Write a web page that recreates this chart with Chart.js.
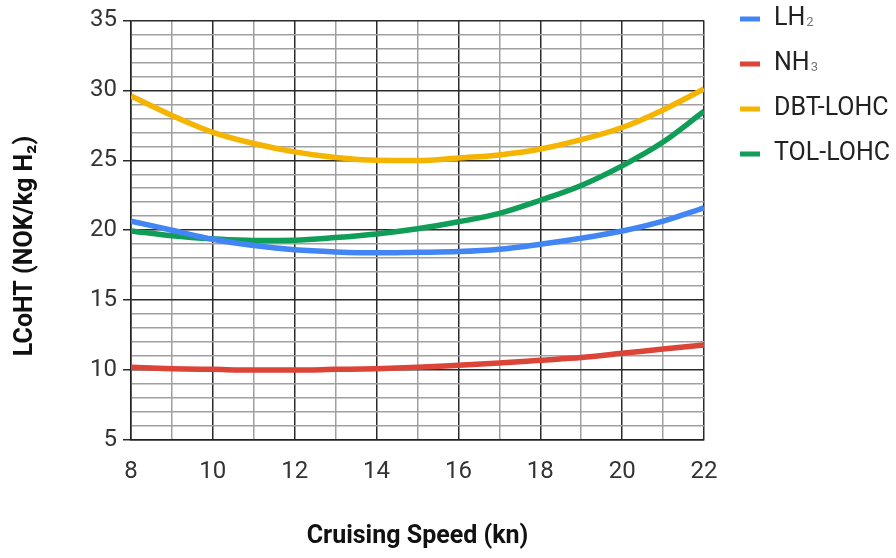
<!DOCTYPE html>
<html>
<head>
<meta charset="utf-8">
<script src="https://cdn.jsdelivr.net/npm/chart.js@4/dist/chart.umd.min.js"></script>
<style>
html,body{margin:0;padding:0;background:#fff;}
#wrap{width:896px;height:558px;position:relative;}
</style>
</head>
<body>
<div id="wrap"><canvas id="c" width="896" height="558"></canvas></div>
<script>
const speeds = [8, 9, 10, 11, 12, 13, 14, 15, 16, 17, 18, 19, 20, 21, 22];
const lh2 = [20.65, 20.0, 19.35, 18.9, 18.6, 18.45, 18.38, 18.42, 18.47, 18.64, 19.0, 19.42, 19.94, 20.65, 21.6];
const nh3 = [10.2, 10.1, 10.05, 10.0, 10.0, 10.05, 10.1, 10.2, 10.35, 10.5, 10.7, 10.9, 11.2, 11.5, 11.8];
const dbtLohc = [29.6, 28.2, 27.0, 26.2, 25.6, 25.2, 25.0, 24.98, 25.16, 25.38, 25.8, 26.47, 27.34, 28.6, 30.1];
const tolLohc = [19.95, 19.6, 19.38, 19.26, 19.28, 19.47, 19.73, 20.1, 20.6, 21.2, 22.14, 23.2, 24.6, 26.3, 28.5];
const seriesNames = ['LH\u2082', 'NH\u2083', 'DBT-LOHC', 'TOL-LOHC'];
const legendMain = ['LH', 'NH', 'DBT-LOHC', 'TOL-LOHC'];
const legendSub = ['2', '3', '', ''];
const seriesColors = ['#4285F4', '#DB4437', '#F4B400', '#0F9D58'];
const xTitle = 'Cruising Speed (kn)';
const yTitle = 'LCoHT (NOK/kg H\u2082)';

const FONT = 'Roboto, "Noto Sans", sans-serif';
const allSeries = [lh2, nh3, dbtLohc, tolLohc];

const datasets = allSeries.map((vals, i) => ({
  label: seriesNames[i],
  data: vals.map((v, j) => ({x: speeds[j], y: v})),
  borderColor: seriesColors[i],
  backgroundColor: seriesColors[i],
  borderWidth: 5.5,
  pointRadius: 0,
  tension: 0.4,
  cubicInterpolationMode: 'monotone',
  fill: false
}));

const extras = {
  id: 'extras',
  afterDraw(chart) {
    const ctx = chart.ctx;
    const a = chart.chartArea;
    ctx.save();
    // legend
    ctx.textBaseline = 'middle';
    ctx.textAlign = 'left';
    const ys = [19, 64, 109, 154];
    legendMain.forEach((n, i) => {
      ctx.fillStyle = seriesColors[i];
      ctx.fillRect(740, ys[i] - 2.5, 20, 5);
      ctx.font = '25px ' + FONT;
      ctx.fillStyle = '#222';
      ctx.fillText(n, 774, ys[i]);
      if (legendSub[i]) {
        const w = ctx.measureText(n).width;
        ctx.font = '13px ' + FONT;
        ctx.fillStyle = '#777';
        ctx.fillText(legendSub[i], 774 + w + 1, ys[i] + 4);
      }
    });
    // axis titles
    ctx.fillStyle = '#111';
    ctx.font = 'bold 25px ' + FONT;
    ctx.textAlign = 'center';
    ctx.fillText(xTitle, (a.left + a.right) / 2, 537);
    ctx.translate(26, 246);
    ctx.rotate(-Math.PI / 2);
    ctx.fillText(yTitle, 0, 0);
    ctx.restore();
  }
};

new Chart(document.getElementById('c'), {
  type: 'line',
  data: {datasets},
  options: {
    responsive: false,
    animation: false,
    layout: {padding: {left: 0, right: 192, top: 17, bottom: 0}},
    plugins: {legend: {display: false}, tooltip: {enabled: false}},
    scales: {
      x: {
        type: 'linear',
        min: 8, max: 22,
        afterFit(s) { s.height = 118; },
        afterBuildTicks(s) { s.ticks = speeds.map(v => ({value: v})); },
        ticks: {
          autoSkip: false, maxRotation: 0,
          padding: 18,
          color: '#333',
          font: {family: FONT, size: 24},
          callback: v => (v % 2 === 0 ? String(v) : '')
        },
        grid: {
          drawTicks: false,
          lineWidth: 1.5,
          color: c => (c.tick && c.tick.value % 2 === 0 ? '#2a2a2a' : '#a0a0a0')
        },
        border: {display: true, color: '#222', width: 1.5}
      },
      y: {
        min: 5, max: 35,
        afterFit(s) { s.width = 131; },
        afterBuildTicks(s) {
          const t = [];
          for (let v = 5; v <= 35; v++) t.push({value: v});
          s.ticks = t;
        },
        ticks: {
          autoSkip: false,
          padding: 6,
          color: '#333',
          font: {family: FONT, size: 24},
          callback: v => (v % 5 === 0 ? String(v) : '')
        },
        grid: {
          tickLength: 8,
          lineWidth: 1.5,
          color: c => (c.tick && c.tick.value % 5 === 0 ? '#2a2a2a' : '#a0a0a0'),
          tickColor: c => (c.tick && c.tick.value % 5 === 0 ? '#2a2a2a' : 'rgba(0,0,0,0)')
        },
        border: {display: true, color: '#222', width: 1.5}
      }
    }
  },
  plugins: [extras]
});
</script>
</body>
</html>
